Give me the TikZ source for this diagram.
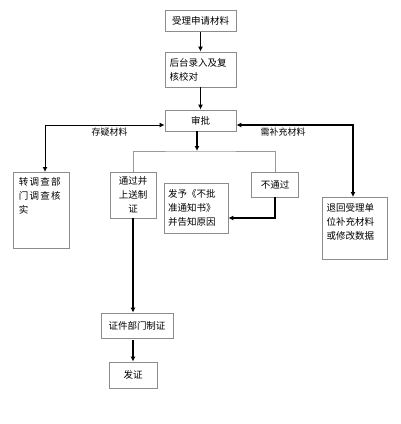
\documentclass[tikz,border=0pt]{standalone}
\usepackage{fontspec}
\newfontfamily\cjk{Noto Sans CJK SC}
\newfontfamily\cjkwide[LetterSpace=13]{Noto Sans CJK SC}
\usetikzlibrary{positioning, arrows.meta, calc}
\tikzset{
  block/.style={
    draw=black!45,
    rectangle,
    line width=0.8pt,
    inner sep=3pt,
    font=\cjk\fontsize{9.5}{14}\selectfont,
    align=left
  },
  flow/.style={
    line width=1.3pt,
    -{Latex[length=5pt,width=5pt]}
  },
  both/.style={
    {Latex[length=5pt,width=5pt]}-{Latex[length=5pt,width=5pt]}
  },
  branch/.style={
    draw=black!40,
    line width=0.9pt
  },
  tag/.style={
    font=\cjk\fontsize{9}{11}\selectfont,
    inner sep=1pt
  }
}
\begin{document}
\begin{tikzpicture}[x=1pt, y=-1pt]
    \useasboundingbox (0,0) rectangle (400,424);
    \node[block, minimum width=71pt, minimum height=21pt, align=center] (apply) at (200.5,21) {受理申请材料};
    \node[block, minimum width=71pt, minimum height=35pt, text width=62pt] (entry) at (200.5,69.5) {后台录入及复\\核校对};
    \node[block, minimum width=71pt, minimum height=21pt, align=center] (review) at (200.5,120.5) {审批};
    \node[block, font=\cjkwide\fontsize{9.5}{14}\selectfont, minimum width=56pt, inner xsep=6pt, inner ysep=5pt, text height=8pt, text depth=58pt, text width=44pt, anchor=north] (investigate) at (41,172) {转调查部\\门调查核\\实};
    \node[block, minimum width=46pt, minimum height=46pt, text width=37pt, align=center] (pass) at (133,195) {通过并\\上送制\\证};
    \node[block, minimum width=64pt, minimum height=50pt, text width=56pt] (notice) at (196,208) {发予《不批\\准通知书》\\并告知原因};
    \node[block, minimum width=47pt, minimum height=25pt, align=center] (reject) at (275,184.5) {不通过};
    \node[block, minimum width=65pt, inner ysep=5pt, text height=9pt, text depth=43pt, text width=56pt, anchor=north] (supply) at (354.5,197) {退回受理单\\位补充材料\\或修改数据};
    \node[block, minimum width=72pt, minimum height=25pt, align=center] (make) at (137,325.5) {证件部门制证};
    \node[block, minimum width=48pt, minimum height=26pt, align=center] (issue) at (133,375) {发证};
    \coordinate (split) at (197,151);

    \draw[flow] (apply) -- (entry);
    \draw[flow] (entry) -- (review);
    \draw[flow, both, line width=1pt] ([yshift=-4.5pt]review.west) -| node[tag, pos=0.23, below=1pt] {存疑材料} ([xshift=4pt]investigate.north);
    \draw[flow, both, line width=1.6pt] ([yshift=-4.5pt]review.east) -| node[tag, pos=0.2, below=1pt] {需补充材料} ([xshift=-1.5pt]supply.north);
    \draw[flow] (review.south -| split) -- (split);
    \draw[branch] (pass.north) |- (split) -| (reject.north);
    \draw[flow] (reject.south) |- ([yshift=-10pt]notice.east);
    \draw[flow] (pass.south) -- (pass.south |- make.north);
    \draw[flow] (make.south -| issue.north) ++(0,2) -- (issue.north);
\end{tikzpicture}
\end{document}
